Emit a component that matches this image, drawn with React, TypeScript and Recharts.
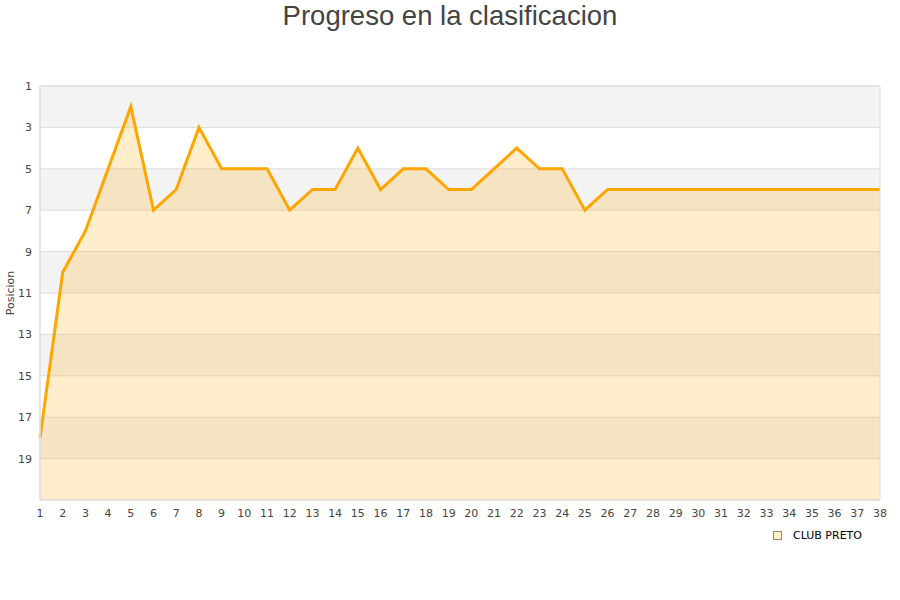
import React from 'react';
import { AreaChart, Area, XAxis, YAxis, CartesianGrid, Legend, ReferenceArea } from 'recharts';

const jornadas = [
  1, 2, 3, 4, 5, 6, 7, 8, 9, 10, 11, 12, 13, 14, 15, 16, 17, 18, 19,
  20, 21, 22, 23, 24, 25, 26, 27, 28, 29, 30, 31, 32, 33, 34, 35, 36, 37, 38,
];
const posiciones = [
  18, 10, 8, 5, 2, 7, 6, 3, 5, 5, 5, 7, 6, 6, 4, 6, 5, 5, 6,
  6, 5, 4, 5, 5, 7, 6, 6, 6, 6, 6, 6, 6, 6, 6, 6, 6, 6, 6,
];
const yTicks = [1, 3, 5, 7, 9, 11, 13, 15, 17, 19];
const equipo = 'CLUB PRETO';

const chartData = jornadas.map((j, i) => ({ jornada: j, posicion: posiciones[i] }));

const tickStyle = { fontSize: 11, fill: '#444', fontFamily: 'DejaVu Sans' };

export default function App() {
  return (
    <div style={{ position: 'absolute', left: 0, top: 0, width: 900, height: 600, background: '#fff' }}>
      <div
        style={{
          position: 'absolute',
          top: 0,
          left: 0,
          width: 900,
          textAlign: 'center',
          fontFamily: 'Liberation Sans, Arial, sans-serif',
          fontSize: 27.5,
          lineHeight: '32px',
          color: '#444',
        }}
      >
        Progreso en la clasificacion
      </div>
      <AreaChart width={900} height={600} data={chartData} margin={{ top: 86, right: 20, bottom: 70, left: 0 }}>
        <CartesianGrid vertical={false} stroke="#dddddd" horizontalFill={['#f3f3f3', '#ffffff']} />
        <XAxis
          dataKey="jornada"
          type="number"
          domain={[1, 38]}
          ticks={jornadas}
          interval={0}
          height={30}
          tickSize={0}
          tickMargin={9}
          axisLine={{ stroke: '#dddddd' }}
          tick={tickStyle}
        />
        <YAxis
          type="number"
          reversed
          domain={[1, 21]}
          ticks={yTicks}
          interval={0}
          width={40}
          tickSize={0}
          tickMargin={8}
          axisLine={{ stroke: '#dddddd' }}
          tick={tickStyle}
          label={{
            content: (props: any) => {
              const vb = props.viewBox || { x: 0, y: 86, height: 414 };
              const cy = vb.y + vb.height / 2;
              return (
                <text
                  x={14}
                  y={cy}
                  transform={`rotate(-90, 14, ${cy})`}
                  textAnchor="middle"
                  fontSize={11}
                  fill="#444"
                  fontFamily="DejaVu Sans"
                >
                  Posicion
                </text>
              );
            },
          }}
        />
        <Area
          type="linear"
          dataKey="posicion"
          name={equipo}
          stroke="#FFA500"
          strokeWidth={3}
          fill="#FFA500"
          fillOpacity={0.2}
          baseValue={21}
          dot={false}
          activeDot={false}
          isAnimationActive={false}
        />
        <ReferenceArea x1={1} x2={38} y1={1} y2={21} fill="none" stroke="#dddddd" strokeWidth={1} />
        <Legend
          layout="horizontal"
          verticalAlign="middle"
          align="center"
          wrapperStyle={{ position: 'absolute', left: 773, top: 529, width: 120, height: 16 }}
          content={() => (
            <div style={{ display: 'flex', alignItems: 'center', fontFamily: 'DejaVu Sans', fontSize: 11, color: '#000' }}>
              <span
                style={{
                  display: 'inline-block',
                  width: 7,
                  height: 7,
                  background: '#ffedcc',
                  border: '1px solid #998866',
                  marginRight: 11,
                }}
              />
              {equipo}
            </div>
          )}
        />
      </AreaChart>
    </div>
  );
}
